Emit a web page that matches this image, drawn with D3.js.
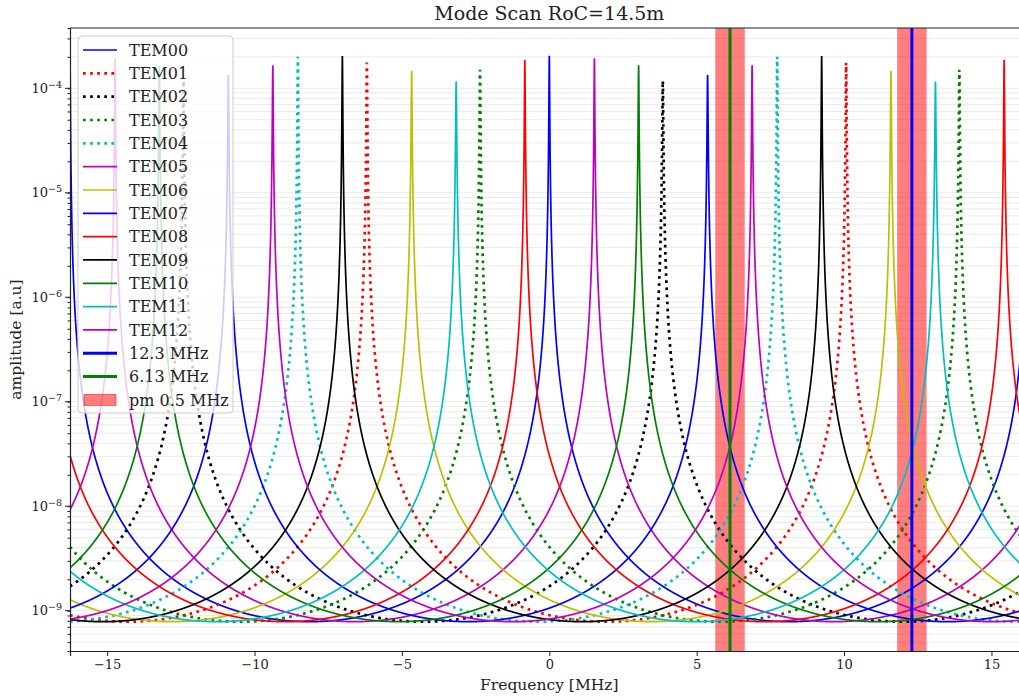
<!DOCTYPE html>
<html>
<head>
<meta charset="utf-8">
<script src="https://cdn.jsdelivr.net/npm/d3@7"></script>
<style>
  body { margin: 0; background: #fff; }
  text { font-family: "DejaVu Serif", serif; fill: #222; }
</style>
</head>
<body>
<script>
//Mode names, colours and styles
var modes = ["TEM00","TEM01","TEM02","TEM03","TEM04","TEM05","TEM06",
             "TEM07","TEM08","TEM09","TEM10","TEM11","TEM12"];
var modeColors = ["#0000ff","#ff0000","#000000","#008000","#00bfbf","#bf00bf","#bfbf00",
                  "#0000ff","#ff0000","#000000","#008000","#00bfbf","#bf00bf"];
var modeDotted = [false,true,true,true,true,false,false,
                  false,false,false,false,false,false];
//Resonance centre of each mode [MHz] and peak height [a.u]
var peakCenters = [0, -6.19, 3.85, -2.35, -8.53, 1.53, -4.67,
                   5.37, -0.83, -7.02, 3.03, -3.16, 6.88];
var peakHeights = [2.05e-4, 1.76e-4, 1.18e-4, 1.5e-4, 2.0e-4, 1.94e-4, 1.46e-4,
                   1.34e-4, 1.87e-4, 2.04e-4, 1.66e-4, 1.16e-4, 1.66e-4];
var fsr = 16.26;          //free spectral range [MHz], peaks repeat every fsr
var floorLevel = 7.85e-10; //amplitude halfway between resonances

//Sidebands and their +-0.5 MHz bands
var markFreqs = [12.3, 6.13];
var markLabels = ["12.3 MHz", "6.13 MHz"];
var markColors = ["#0000ff", "#008000"];
var bandHalf = 0.5;

var xTicks = [-15, -10, -5, 0, 5, 10, 15];
var yTicks = [-9, -8, -7, -6, -5, -4];

//Define Margin
var margin = {left: 70, right: 0, top: 28, bottom: 49},
    width = 958.6,
    height = 700 - margin.top - margin.bottom;

var svg = d3.select("body")
    .append("svg")
    .attr("width", 1019)
    .attr("height", 700);

var g = svg.append("g")
    .attr("transform", "translate(" + margin.left + "," + margin.top + ")");

var x = d3.scaleLinear()
    .domain([-fsr, fsr])
    .range([0, width]);

var y = d3.scaleLog()
    .domain([Math.pow(10, -9.3857), Math.pow(10, -3.4229)])
    .range([height, 0]);

g.append("clipPath").attr("id", "clip")
  .append("rect").attr("width", width).attr("height", height);

//Grid, major and minor on y
var minorVals = [];
for (var e = -10; e <= -3; e++) {
  for (var m = 1; m <= 9; m++) {
    var v = m * Math.pow(10, e);
    if (v >= y.domain()[0] && v <= y.domain()[1]) minorVals.push(v);
  }
}
g.append("g").selectAll("line")
  .data(minorVals).enter().append("line")
  .attr("x1", 0).attr("x2", width)
  .attr("y1", function(d) { return y(d); })
  .attr("y2", function(d) { return y(d); })
  .attr("stroke", "#e4e4e4")
  .attr("stroke-width", 0.8);

var plot = g.append("g").attr("clip-path", "url(#clip)");

//Shaded bands first, below the curves
plot.selectAll(".band")
  .data(markFreqs).enter().append("rect")
  .attr("class", "band")
  .attr("x", function(d) { return x(d - bandHalf); })
  .attr("width", function(d) { return x(d + bandHalf) - x(d - bandHalf); })
  .attr("y", 0)
  .attr("height", height)
  .attr("fill", "#ff0000")
  .attr("fill-opacity", 0.5);

//Airy line shape of one mode
function amplitude(i, f) {
  var h = peakHeights[i];
  var s = Math.sin(Math.PI * (f - peakCenters[i]) / fsr);
  return h / (1 + (h / floorLevel - 1) * s * s);
}

var step = 0.004;
var grid = d3.range(-fsr, fsr + step / 2, step);

var line = d3.line()
  .x(function(d) { return x(d[0]); })
  .y(function(d) { return y(d[1]); });

modes.forEach(function(name, i) {
  var fs = grid.slice();
  [-1, 0, 1].forEach(function(k) {
    var c = peakCenters[i] + k * fsr;
    if (c >= -fsr && c <= fsr) fs.push(c);
  });
  fs.sort(function(a, b) { return a - b; });
  var pts = fs.map(function(f) { return [f, amplitude(i, f)]; });
  plot.append("path")
    .datum(pts)
    .attr("fill", "none")
    .attr("stroke", modeColors[i])
    .attr("stroke-width", modeDotted[i] ? 2.7 : 1.7)
    .attr("stroke-dasharray", modeDotted[i] ? "2.7,4.4" : null)
    .attr("d", line);
});

//Sideband lines
plot.selectAll(".mark")
  .data(markFreqs).enter().append("line")
  .attr("x1", function(d) { return x(d); })
  .attr("x2", function(d) { return x(d); })
  .attr("y1", 0).attr("y2", height)
  .attr("stroke", function(d, i) { return markColors[i]; })
  .attr("stroke-width", 3);

//Axes
var xAxis = g.append("g")
  .attr("transform", "translate(0," + height + ")")
  .call(d3.axisBottom(x).tickValues(xTicks).tickSize(5).tickPadding(4)
    .tickFormat(function(d) { return d < 0 ? "\u2212" + Math.abs(d) : d; }));
xAxis.select(".domain").attr("stroke", "#222").attr("stroke-width", 1.2);
xAxis.selectAll(".tick line").attr("stroke", "#222");
xAxis.selectAll("text").style("font-family", "DejaVu Serif").style("font-size", "13px").attr("fill", "#222");

var yAxis = g.append("g")
  .call(d3.axisLeft(y).tickValues(minorVals).tickSize(2.5).tickFormat(""));
yAxis.select(".domain").attr("stroke", "#222").attr("stroke-width", 1.2);
yAxis.selectAll(".tick line").attr("stroke", "#222");

var yMajor = g.append("g").selectAll("g")
  .data(yTicks).enter().append("g")
  .attr("transform", function(d) { return "translate(0," + y(Math.pow(10, d)) + ")"; });
yMajor.append("line").attr("x1", -5).attr("x2", 0).attr("stroke", "#222");
var yLab = yMajor.append("text")
  .attr("x", -8).attr("dy", "0.35em")
  .attr("text-anchor", "end")
  .style("font-size", "13px");
yLab.append("tspan").text("10");
yLab.append("tspan").attr("dy", "-0.55em").style("font-size", "9.5px")
  .text(function(d) { return "\u2212" + Math.abs(d); });

//Top spine
g.append("line").attr("x1", 0).attr("x2", width).attr("y1", 0).attr("y2", 0)
  .attr("stroke", "#222").attr("stroke-width", 1.2);

//Labels
svg.append("text")
  .attr("x", margin.left + width / 2).attr("y", 20)
  .attr("text-anchor", "middle")
  .style("font-size", "19px")
  .text("Mode Scan RoC=14.5m");

svg.append("text")
  .attr("x", margin.left + width / 2).attr("y", 690)
  .attr("text-anchor", "middle")
  .style("font-size", "15.5px")
  .text("Frequency [MHz]");

svg.append("text")
  .attr("transform", "translate(21," + (margin.top + height / 2) + ") rotate(-90)")
  .attr("text-anchor", "middle")
  .style("font-size", "15.5px")
  .text("amplitude [a.u]");

//Legend
var legend = svg.append("g").attr("transform", "translate(78,36)");
legend.append("rect")
  .attr("width", 155).attr("height", 377)
  .attr("rx", 4)
  .attr("fill", "#fff").attr("fill-opacity", 0.8)
  .attr("stroke", "#cccccc");

var rowH = 23.33;
var items = modes.map(function(n, i) {
  return {label: n, color: modeColors[i], dotted: modeDotted[i], w: modeDotted[i] ? 2.7 : 1.7};
});
markLabels.forEach(function(n, i) {
  items.push({label: n, color: markColors[i], dotted: false, w: 3});
});
items.push({label: "pm " + bandHalf + " MHz", band: true});

var rows = legend.selectAll(".item")
  .data(items).enter().append("g")
  .attr("transform", function(d, i) { return "translate(0," + (14 + i * rowH) + ")"; });

rows.filter(function(d) { return !d.band; }).append("line")
  .attr("x1", 5).attr("x2", 39)
  .attr("stroke", function(d) { return d.color; })
  .attr("stroke-width", function(d) { return d.w; })
  .attr("stroke-dasharray", function(d) { return d.dotted ? "2.7,4.4" : null; });

rows.filter(function(d) { return d.band; }).append("rect")
  .attr("x", 6).attr("y", -5.5).attr("width", 32).attr("height", 11)
  .attr("fill", "#ff0000").attr("fill-opacity", 0.5)
  .attr("stroke", "#ff0000").attr("stroke-opacity", 0.5);

rows.append("text")
  .attr("x", 51).attr("dy", "0.36em")
  .style("font-size", "16px")
  .text(function(d) { return d.label; });
</script>
</body>
</html>
